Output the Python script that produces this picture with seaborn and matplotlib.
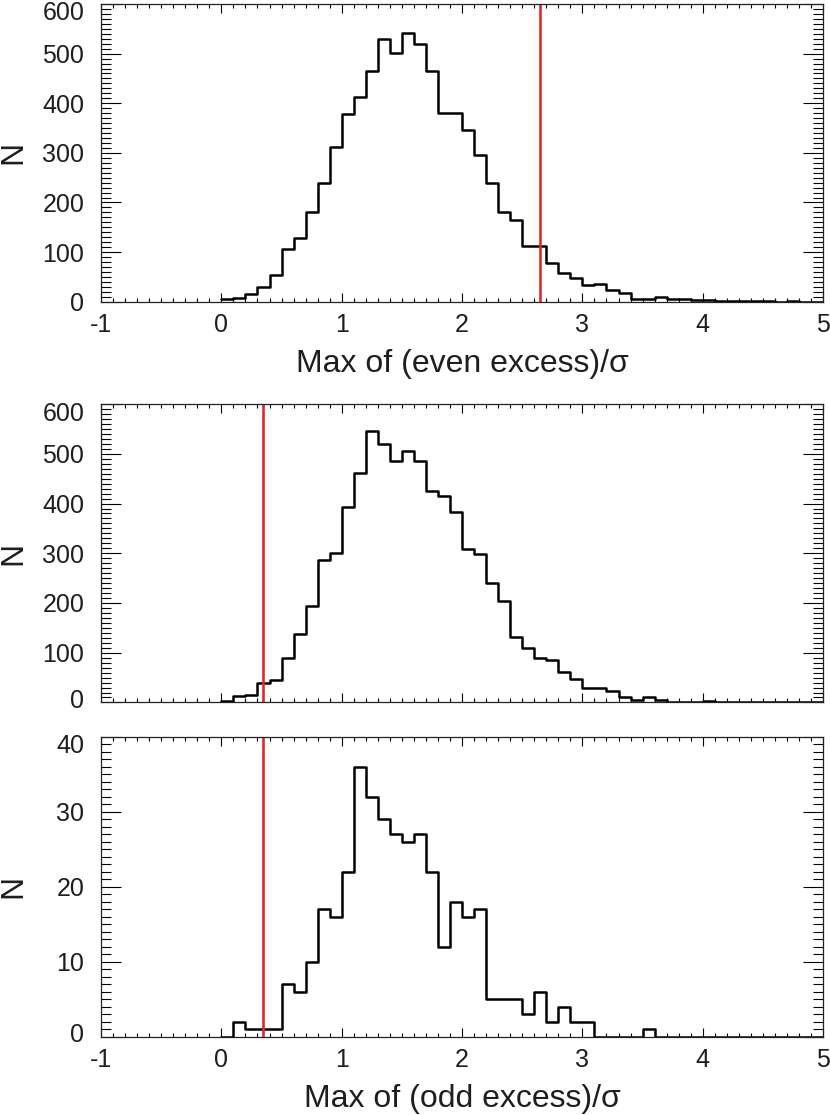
import numpy as np
import pandas as pd
import seaborn as sns
import matplotlib.pyplot as plt
from matplotlib.ticker import MultipleLocator
from matplotlib.transforms import ScaledTranslation

# bins of all three histograms: width 0.1 from 0 to 5
centers = np.linspace(0.05, 4.95, 50)

# counts, one per bin
even_counts = [5, 8, 15, 29, 53, 107, 129, 181, 240, 312,
               379, 413, 465, 529, 501, 541, 519, 466, 381, 380,
               347, 296, 239, 181, 165, 113, 112, 79, 57, 47,
               33, 35, 23, 17, 6, 5, 10, 5, 5, 4,
               3, 2, 2, 1, 1, 1, 0, 1, 0, 0]
odd_counts = [3, 12, 15, 39, 45, 89, 137, 193, 287, 300,
              394, 461, 545, 520, 486, 505, 486, 425, 415, 382,
              308, 298, 241, 204, 132, 109, 90, 85, 62, 47,
              30, 30, 23, 11, 4, 10, 5, 1, 1, 1,
              2, 1, 1, 0, 0, 0, 0, 0, 0, 0]
odd_sel_counts = [0, 2, 1, 1, 1, 7, 6, 10, 17, 16,
                  22, 36, 32, 29, 27, 26, 27, 22, 12, 18,
                  16, 17, 5, 5, 5, 3, 6, 2, 4, 2,
                  2, 0, 0, 0, 0, 1, 0, 0, 0, 0,
                  0, 0, 0, 0, 0, 0, 0, 0, 0, 0]

observed = [2.65, 0.35, 0.35]
ylims = [600, 600, 40]
ysteps = [100, 100, 10]
xticks = [-1, 0, 1, 2, 3, 4, 5]
xlabels = ['Max of (even excess)/\u03c3', None, 'Max of (odd excess)/\u03c3']

sns.set_style('ticks')
plt.rcParams['font.family'] = ['Liberation Sans', 'DejaVu Sans']
plt.rcParams['axes.linewidth'] = 0.9
plt.rcParams['axes.unicode_minus'] = False

fig = plt.figure(figsize=(8.3, 11.15), dpi=100)
positions = [[0.1217, 0.7294, 0.870, 0.2670],
             [0.1217, 0.3700, 0.870, 0.2676],
             [0.1217, 0.0702, 0.870, 0.2690]]
txt = '#1e1e1e'

for i, counts in enumerate([even_counts, odd_counts, odd_sel_counts]):
    ax = fig.add_axes(positions[i])
    df = pd.DataFrame({'x': centers, 'n': counts})
    sns.histplot(data=df, x='x', weights='n', binwidth=0.1, binrange=(0, 5),
                 element='step', fill=False, color='black', linewidth=1.8, ax=ax)
    ax.axvline(observed[i], color='#e02a2a', linewidth=1.9)
    ax.set_xlim(-1, 5)
    ax.set_ylim(0, ylims[i])
    ax.set_xticks(xticks)
    ax.set_yticks(np.arange(0, ylims[i] + 1, ysteps[i]))
    ax.xaxis.set_minor_locator(MultipleLocator(0.1))
    ax.yaxis.set_minor_locator(MultipleLocator(ysteps[i] / 10))
    ax.tick_params(which='both', direction='in', top=True, right=True,
                   width=0.8, color='black', labelsize=18, labelcolor=txt)
    ax.tick_params(axis='x', which='major', length=6.5, pad=8)
    ax.tick_params(axis='x', which='minor', length=2.9)
    ax.tick_params(axis='y', which='major', length=14.5, pad=12)
    ax.tick_params(axis='y', which='minor', length=7.2)
    for s in ax.spines.values():
        s.set_color('#222222')
    ax.set_ylabel('N', fontsize=23, color=txt)
    ax.yaxis.set_label_coords(-0.100, 0.5)
    if xlabels[i]:
        ax.set_xlabel(xlabels[i], fontsize=23, color=txt, labelpad=9)
    else:
        ax.set_xlabel('')
        ax.tick_params(axis='x', labelbottom=False)
    # end labels are pulled a little inside the frame, like the original
    ylabs = ax.get_yticklabels()
    ylabs[-1].set_transform(ylabs[-1].get_transform()
                            + ScaledTranslation(0, -5 / 72, fig.dpi_scale_trans))
    if i > 0:
        ylabs[0].set_transform(ylabs[0].get_transform()
                               + ScaledTranslation(0, 3 / 72, fig.dpi_scale_trans))

plt.savefig('out.png', dpi=100)
